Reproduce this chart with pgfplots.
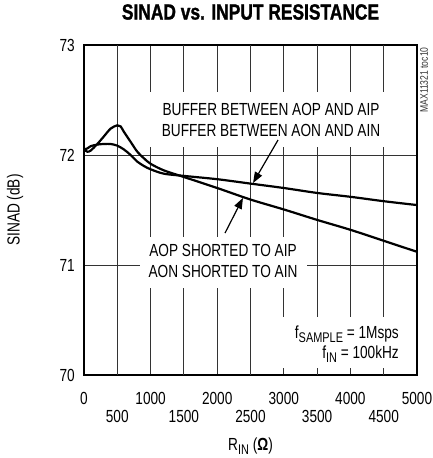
\documentclass[border=0pt]{standalone}
\usepackage{fontspec}
\setmainfont[FakeStretch=0.78]{Liberation Sans}
\newfontfamily\titlefont[FakeStretch=0.79, BoldFeatures={FakeBold=1.3}]{Liberation Sans}
\usepackage{pgfplots}
\pgfplotsset{compat=1.18}
\usetikzlibrary{arrows.meta}
\newcommand\fs{\fontsize{17.5}{21.5}\selectfont}
\newcommand\sbs[1]{\raisebox{-3.5pt}{\fontsize{14}{14}\selectfont #1}}
\begin{document}
\begin{tikzpicture}
\useasboundingbox (-84pt,-83pt) rectangle (349pt,375pt);
\begin{axis}[
  at={(0,0)}, anchor=south west,
  width=333pt, height=330pt, scale only axis,
  xmin=0, xmax=5000, ymin=70, ymax=73,
  xtick={0,1000,2000,3000,4000,5000},
  xticklabels={0,1000,2000,3000,4000,5000},
  extra x ticks={500,1500,2500,3500,4500},
  extra x tick labels={500,1500,2500,3500,4500},
  extra x tick style={grid=major, xticklabel style={yshift=-18pt}},
  ytick={70,71,72,73}, yticklabels={70,71,72,73},
  scaled ticks=false,
  major tick length=0pt,
  grid=major,
  major grid style={line width=0.8pt, black!80},
  axis line style={line width=2.7pt},
  tick label style={font=\fs, inner sep=0pt},
  xticklabel style={anchor=north, yshift=-17pt},
  yticklabel style={anchor=east, xshift=-9pt},
  title={SINAD vs. INPUT RESISTANCE},
  title style={at={(axis description cs:0.5,1.106)}, anchor=north, inner sep=0pt,
    font=\titlefont\bfseries\fontsize{22}{24}\selectfont},
  xlabel={R\sbs{IN} (\textbf{Ω})},
  xlabel style={at={(axis description cs:0.5,-0.191)}, anchor=north, inner sep=0pt, font=\fs},
  ylabel={SINAD (dB)},
  ylabel style={at={(axis description cs:-0.207,0.5)}, anchor=center, inner sep=0pt, font=\fs},
  clip=false,
]
% curve with peak (AOP shorted to AIP)
\addplot[black, line width=2.2pt, smooth] coordinates {
(0,72.05) (50,72.03) (100,72.04) (200,72.10) (300,72.17) (400,72.24) (500,72.27)
(550,72.26) (600,72.21) (700,72.12) (800,72.03) (900,71.97) (1000,71.92)
(1200,71.86) (1500,71.80) (2000,71.70) (2500,71.595) (3000,71.505)
(3500,71.41) (4000,71.32) (4500,71.22) (5000,71.12)};
% flatter curve (buffer)
\addplot[black, line width=2.2pt, smooth] coordinates {
(0,72.05) (50,72.06) (100,72.08) (200,72.095) (300,72.10) (400,72.10) (500,72.085)
(600,72.05) (700,72.0) (800,71.94) (900,71.90) (1000,71.87) (1200,71.83)
(1500,71.81) (2000,71.78) (2500,71.74) (3000,71.70) (3500,71.655)
(4000,71.62) (4500,71.58) (5000,71.545)};
% white boxes behind the labels
\fill[white] (axis cs:961,72.573) rectangle (axis cs:4625,72.073);
\fill[white] (axis cs:841,71.255) rectangle (axis cs:3348,70.791);
\fill[white] (axis cs:2868,70.527) rectangle (axis cs:4955,70.064);
\node[anchor=north, align=center, inner sep=0pt, font=\fs] at (axis cs:2808,72.473)
  {BUFFER BETWEEN AOP AND AIP\\BUFFER BETWEEN AON AND AIN};
\node[anchor=north, align=center, inner sep=0pt, font=\fs] at (axis cs:2087,71.191)
  {AOP SHORTED TO AIP\\AON SHORTED TO AIN};
\node[anchor=north east, align=right, inner sep=0pt, font=\fontsize{17.5}{20}\selectfont] at (axis cs:4730,70.445)
  {f\sbs{SAMPLE} = 1Msps\\f\sbs{IN} = 100kHz};
\draw[line width=1.2pt, -{Triangle[length=11pt,width=8pt]}] (axis cs:2913,72.136) -- (axis cs:2538,71.745);
\draw[line width=1.2pt, -{Triangle[length=11pt,width=8pt]}] (axis cs:2117,71.29) -- (axis cs:2387,71.61);
\node[rotate=90, inner sep=0pt, text=black!80, font=\fontsize{11}{11}\selectfont] at (rel axis cs:1.021,0.894) {MAX11321 toc10};
\end{axis}
\end{tikzpicture}
\end{document}
